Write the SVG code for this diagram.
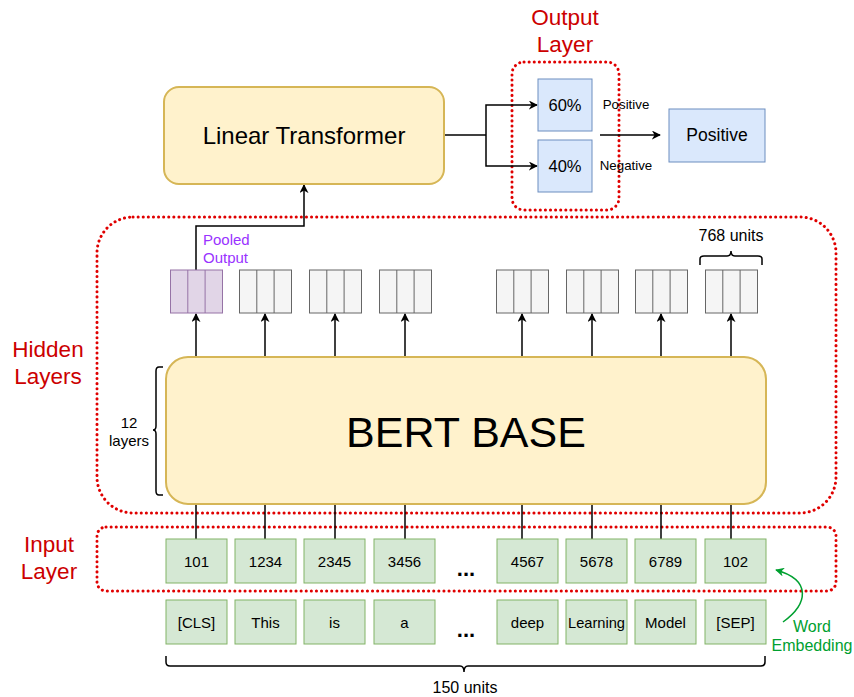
<svg xmlns="http://www.w3.org/2000/svg" width="854" height="697" viewBox="0 0 854 697">
<style>
text{font-family:"Liberation Sans",Arial,Helvetica,sans-serif;fill:#000}
.red{fill:#cc0000;font-size:22.5px}
.t15{font-size:15px}
.t16{font-size:16px}
.t13{font-size:13.3px}
.yel{fill:#fff2cc;stroke:#d6b656;stroke-width:2}
.blue{fill:#dae8fc;stroke:#6c8ebf;stroke-width:1}
.green{fill:#d5e8d4;stroke:#82b366;stroke-width:1}
.gray{fill:#f5f5f5;stroke:#666666;stroke-width:1}
.purp{fill:#e1d5e7;stroke:#9673a6;stroke-width:1}
.dot{fill:none;stroke:#e00000;stroke-width:3;stroke-dasharray:0.1 5;stroke-linecap:round}
.ln{fill:none;stroke:#000;stroke-width:1.5}
.arr{fill:none;stroke:#000;stroke-width:1.5;marker-end:url(#ah)}
.brace{fill:none;stroke:#000;stroke-width:1.5}
</style>
<defs>
<marker id="ah" viewBox="0 0 10 10" refX="9" refY="5" markerWidth="9" markerHeight="9" markerUnits="userSpaceOnUse" orient="auto">
<path d="M0,0 L10,5 L0,10 L3,5 Z" fill="#000"/>
</marker>
<marker id="gh" viewBox="0 0 10 10" refX="9" refY="5" markerWidth="9" markerHeight="9" markerUnits="userSpaceOnUse" orient="auto">
<path d="M0,0 L10,5 L0,10 L3,5 Z" fill="#00a030"/>
</marker>
<g id="vec3">
<rect x="0" y="0" width="52" height="43"/>
<line x1="17.3" y1="0" x2="17.3" y2="43"/>
<line x1="34.6" y1="0" x2="34.6" y2="43"/>
</g>
</defs>

<!-- Layer regions -->
<g id="output-layer">
<rect class="dot" x="512" y="62" width="107" height="148" rx="12"/>
<text class="red" x="565" y="25" text-anchor="middle">Output</text>
<text class="red" x="565" y="52" text-anchor="middle">Layer</text>
</g>
<g id="hidden-layers">
<rect class="dot" x="97" y="217" width="739" height="296" rx="36"/>
<text class="red" x="48" y="357" text-anchor="middle">Hidden</text>
<text class="red" x="48" y="384" text-anchor="middle">Layers</text>
</g>
<g id="input-layer">
<rect class="dot" x="97" y="527" width="739" height="64" rx="9"/>
<text class="red" x="49" y="552" text-anchor="middle">Input</text>
<text class="red" x="49" y="579" text-anchor="middle">Layer</text>
</g>

<!-- Connectors -->
<g id="connectors">
<polyline class="arr" points="196,270 196,226 304,226 304,185"/>
<polyline class="ln" points="444,135 486,135"/>
<polyline class="arr" points="486,135 486,105 537,105"/>
<polyline class="arr" points="486,135 486,166 537,166"/>
<line class="arr" x1="600" y1="135" x2="660" y2="135"/>
<line class="arr" x1="196" y1="357" x2="196" y2="314"/>
<line class="arr" x1="265" y1="357" x2="265" y2="314"/>
<line class="arr" x1="335" y1="357" x2="335" y2="314"/>
<line class="arr" x1="405" y1="357" x2="405" y2="314"/>
<line class="arr" x1="522" y1="357" x2="522" y2="314"/>
<line class="arr" x1="592" y1="357" x2="592" y2="314"/>
<line class="arr" x1="661" y1="357" x2="661" y2="314"/>
<line class="arr" x1="731" y1="357" x2="731" y2="314"/>
<line class="ln" x1="196" y1="504" x2="196" y2="539"/>
<line class="ln" x1="265" y1="504" x2="265" y2="539"/>
<line class="ln" x1="335" y1="504" x2="335" y2="539"/>
<line class="ln" x1="405" y1="504" x2="405" y2="539"/>
<line class="ln" x1="522" y1="504" x2="522" y2="539"/>
<line class="ln" x1="592" y1="504" x2="592" y2="539"/>
<line class="ln" x1="661" y1="504" x2="661" y2="539"/>
<line class="ln" x1="731" y1="504" x2="731" y2="539"/>
<path d="M783,622 C808,604 812,580 776,570" fill="none" stroke="#00a030" stroke-width="1.5" marker-end="url(#gh)"/>
</g>

<!-- Nodes -->
<g id="linear-transformer">
<rect class="yel" x="164" y="87" width="280" height="97" rx="15"/>
<text x="304" y="144" text-anchor="middle" font-size="24">Linear Transformer</text>
</g>
<g id="prob-60">
<rect class="blue" x="538" y="79" width="54" height="52"/>
<text x="565" y="111" text-anchor="middle" font-size="16.5">60%</text>
</g>
<g id="prob-40">
<rect class="blue" x="538" y="140" width="54" height="52"/>
<text x="565" y="172" text-anchor="middle" font-size="16.5">40%</text>
</g>
<text class="t13" x="626" y="109" text-anchor="middle">Positive</text>
<text class="t13" x="626" y="170" text-anchor="middle">Negative</text>
<g id="result">
<rect class="blue" x="669" y="109" width="96" height="53"/>
<text x="717" y="141" text-anchor="middle" font-size="17.5">Positive</text>
</g>

<g id="pooled-output">
<use href="#vec3" x="170.5" y="270" class="purp"/>
<text x="203" y="245" font-size="15" style="fill:#9933ff">Pooled</text>
<text x="203" y="263" font-size="15" style="fill:#9933ff">Output</text>
</g>
<g id="hidden-vectors">
<use href="#vec3" x="239.5" y="270" class="gray"/>
<use href="#vec3" x="309.5" y="270" class="gray"/>
<use href="#vec3" x="379.5" y="270" class="gray"/>
<use href="#vec3" x="496.5" y="270" class="gray"/>
<use href="#vec3" x="566.5" y="270" class="gray"/>
<use href="#vec3" x="635.5" y="270" class="gray"/>
<use href="#vec3" x="705.5" y="270" class="gray"/>
</g>
<g id="units-768">
<path class="brace" d="M700,265 V259 Q700,256 704,256 H727 Q731,256 731,251 Q731,256 735,256 H758 Q762,256 762,259 V265"/>
<text class="t16" x="731" y="241" text-anchor="middle">768 units</text>
</g>

<g id="bert-base">
<rect class="yel" x="166" y="357" width="600" height="147" rx="22"/>
<text x="466" y="447" text-anchor="middle" font-size="43">BERT BASE</text>
</g>
<g id="layers-12">
<path class="brace" d="M163,367 H159 Q156,367 156,371 V426 Q156,430 153,430 Q156,430 156,434 V491 Q156,495 159,495 H163"/>
<text class="t15" x="129" y="428" text-anchor="middle">12</text>
<text class="t15" x="129" y="446" text-anchor="middle">layers</text>
</g>

<g id="token-ids">
<rect class="green" x="166" y="539" width="61" height="44"/><text class="t15" x="196.5" y="567" text-anchor="middle">101</text>
<rect class="green" x="235" y="539" width="61" height="44"/><text class="t15" x="265.5" y="567" text-anchor="middle">1234</text>
<rect class="green" x="304" y="539" width="61" height="44"/><text class="t15" x="334.5" y="567" text-anchor="middle">2345</text>
<rect class="green" x="374" y="539" width="61" height="44"/><text class="t15" x="404.5" y="567" text-anchor="middle">3456</text>
<text x="466" y="576" text-anchor="middle" font-size="22" font-weight="bold">...</text>
<rect class="green" x="497" y="539" width="61" height="44"/><text class="t15" x="527.5" y="567" text-anchor="middle">4567</text>
<rect class="green" x="566" y="539" width="61" height="44"/><text class="t15" x="596.5" y="567" text-anchor="middle">5678</text>
<rect class="green" x="635" y="539" width="61" height="44"/><text class="t15" x="665.5" y="567" text-anchor="middle">6789</text>
<rect class="green" x="705" y="539" width="61" height="44"/><text class="t15" x="735.5" y="567" text-anchor="middle">102</text>
</g>
<g id="words">
<rect class="green" x="166" y="600" width="61" height="44"/><text class="t15" x="196.5" y="628" text-anchor="middle">[CLS]</text>
<rect class="green" x="235" y="600" width="61" height="44"/><text class="t15" x="265.5" y="628" text-anchor="middle">This</text>
<rect class="green" x="304" y="600" width="61" height="44"/><text class="t15" x="334.5" y="628" text-anchor="middle">is</text>
<rect class="green" x="374" y="600" width="61" height="44"/><text class="t15" x="404.5" y="628" text-anchor="middle">a</text>
<text x="466" y="637" text-anchor="middle" font-size="22" font-weight="bold">...</text>
<rect class="green" x="497" y="600" width="61" height="44"/><text class="t15" x="527.5" y="628" text-anchor="middle">deep</text>
<rect class="green" x="566" y="600" width="61" height="44"/><text class="t15" x="596.5" y="628" text-anchor="middle" textLength="57" lengthAdjust="spacingAndGlyphs">Learning</text>
<rect class="green" x="635" y="600" width="61" height="44"/><text class="t15" x="665.5" y="628" text-anchor="middle">Model</text>
<rect class="green" x="705" y="600" width="61" height="44"/><text class="t15" x="735.5" y="628" text-anchor="middle">[SEP]</text>
</g>
<g id="units-150">
<path class="brace" d="M166,656 V662 Q166,666 170,666 H460 Q464,666 464,672 Q464,666 468,666 H761 Q765,666 765,662 V656"/>
<text class="t16" x="465" y="693" text-anchor="middle">150 units</text>
</g>
<g id="word-embedding">
<text x="812" y="632" text-anchor="middle" font-size="16" style="fill:#00a030">Word</text>
<text x="812" y="651" text-anchor="middle" font-size="16" style="fill:#00a030">Embedding</text>
</g>
</svg>
